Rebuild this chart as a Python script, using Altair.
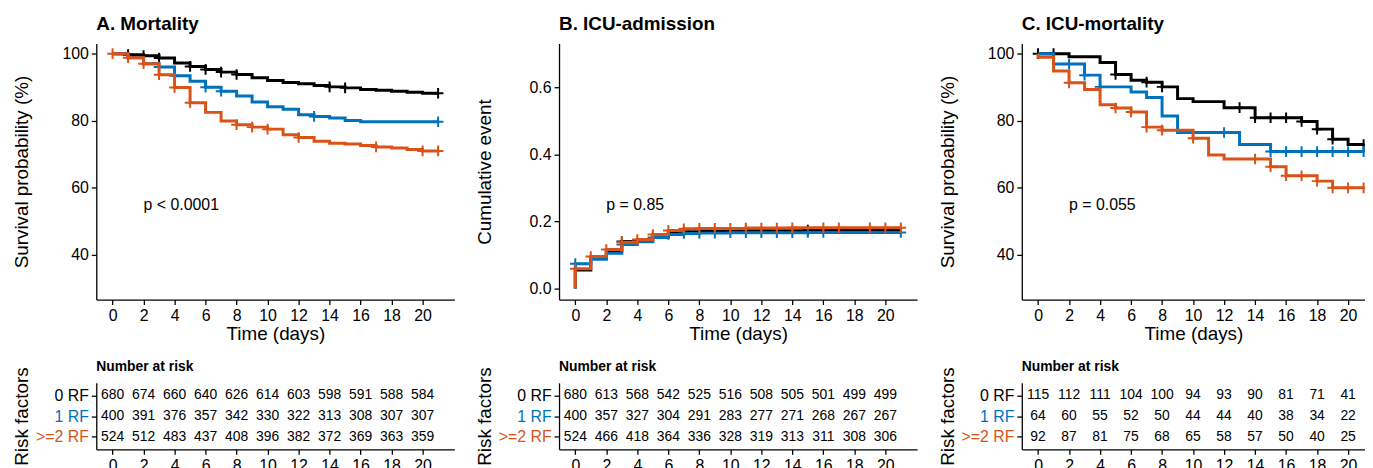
import altair as alt
import pandas as pd

GROUPS = ["0 RF", "1 RF", ">=2 RF"]
COLORS = ["#000000", "#0072BD", "#D95319"]
DAYS = list(range(22))
RISK_DAYS = list(range(0, 21, 2))

# ---- Panel A: Mortality (survival %, value at each day 0..21)
A_RF0 = [100, 99.7, 99.4, 98.7, 97.2, 96.2, 95.3, 94.5, 93.8, 92.8, 92.0, 91.4,
         91.0, 90.5, 90.1, 89.8, 89.3, 89.1, 88.8, 88.5, 88.2, 88.2]
A_RF1 = [100, 98.8, 97.0, 96.0, 93.4, 91.8, 90.0, 88.8, 87.4, 85.6, 84.2, 83.4,
         81.8, 81.3, 80.8, 80.1, 79.7, 79.7, 79.7, 79.7, 79.7, 79.7]
A_RF2 = [100, 98.8, 97.0, 93.7, 89.9, 85.4, 82.5, 79.9, 78.8, 78.1, 77.5, 75.8,
         75.0, 73.9, 73.3, 73.1, 72.6, 72.2, 71.9, 71.4, 71.0, 71.0]
A_CENS0 = [1, 2, 3, 5, 6, 7, 8, 14, 15, 21]
A_CENS1 = [3, 4, 6, 7, 13, 21]
A_CENS2 = [0, 1, 2, 3, 4, 5, 8, 9, 10, 12, 17, 20, 21]

# ---- Panel B: ICU-admission (cumulative event)
B_RF0 = [0.055, 0.090, 0.112, 0.140, 0.146, 0.156, 0.165, 0.169, 0.170, 0.171, 0.172,
         0.172, 0.172, 0.172, 0.172, 0.174, 0.174, 0.174, 0.174, 0.174, 0.174, 0.174]
B_RF1 = [0.074, 0.087, 0.105, 0.131, 0.139, 0.152, 0.161, 0.164, 0.165, 0.165, 0.166,
         0.166, 0.166, 0.166, 0.166, 0.167, 0.167, 0.167, 0.167, 0.167, 0.167, 0.167]
B_RF2 = [0.059, 0.095, 0.116, 0.138, 0.146, 0.161, 0.173, 0.178, 0.179, 0.179, 0.179,
         0.180, 0.180, 0.180, 0.181, 0.181, 0.181, 0.181, 0.181, 0.181, 0.181, 0.181]
B_CENS0 = [3, 15]
B_CENS1 = [0, 3, 5, 6, 7, 8, 9, 10, 11, 12, 13, 14, 15, 16, 21]
B_CENS2 = [0, 1, 2, 3, 4, 5, 6, 7, 8, 9, 10, 11, 12, 13, 14, 16, 17, 19, 20, 21]

# ---- Panel C: ICU-mortality (survival %)
C_RF0 = [100, 100, 99.1, 99.1, 97.4, 93.8, 92.1, 91.5, 90.1, 86.6, 85.7, 85.7,
         83.9, 83.9, 80.9, 80.9, 80.9, 79.8, 77.5, 74.5, 72.9, 72.9]
C_RF1 = [100, 96.9, 96.9, 93.6, 90.1, 90.1, 88.6, 86.9, 81.4, 76.5, 76.5, 76.5,
         76.5, 72.9, 72.9, 70.8, 70.8, 70.8, 70.8, 70.8, 70.8, 70.8]
C_RF2 = [98.9, 94.8, 91.3, 89.3, 84.8, 83.8, 82.6, 78.1, 77.2, 77.2, 74.8, 69.8,
         68.6, 68.6, 68.6, 66.3, 63.6, 63.6, 62.0, 60.0, 60.0, 60.0]
C_CENS0 = [0, 1, 5, 7, 8, 13, 14, 15, 16, 17, 18, 19, 21]
C_CENS1 = [2, 3, 4, 12, 15, 16, 17, 18, 19, 20, 21]
C_CENS2 = [2, 5, 6, 7, 8, 10, 14, 15, 16, 17, 18, 19, 20, 21]

# ---- Numbers at risk (days 0,2,...,20)
A_RISK0 = [680, 674, 660, 640, 626, 614, 603, 598, 591, 588, 584]
A_RISK1 = [400, 391, 376, 357, 342, 330, 322, 313, 308, 307, 307]
A_RISK2 = [524, 512, 483, 437, 408, 396, 382, 372, 369, 363, 359]
B_RISK0 = [680, 613, 568, 542, 525, 516, 508, 505, 501, 499, 499]
B_RISK1 = [400, 357, 327, 304, 291, 283, 277, 271, 268, 267, 267]
B_RISK2 = [524, 466, 418, 364, 336, 328, 319, 313, 311, 308, 306]
C_RISK0 = [115, 112, 111, 104, 100, 94, 93, 90, 81, 71, 41]
C_RISK1 = [64, 60, 55, 52, 50, 44, 44, 40, 38, 34, 22]
C_RISK2 = [92, 87, 81, 75, 68, 65, 58, 57, 50, 40, 25]

TITLES = ["A. Mortality", "B. ICU-admission", "C. ICU-mortality"]
PVALS = ["p < 0.0001", "p = 0.85", "p = 0.055"]

CROSS = "M-1,0L1,0M0,-1L0,1"
XMIN = -1.05
XMAX = 22.05
W = 361
W_LAST = 346
XMAX_LAST = XMIN + (XMAX - XMIN) * W_LAST / W
H = 258
H_TAB = 67


def km_chart(title, series, cens, start, ylab, ydom, yticks, yfmt, ptext, py,
             width, xmax):
    xenc = alt.X("t:Q", scale=alt.Scale(domain=[XMIN, xmax], nice=False, zero=False),
                 axis=alt.Axis(values=RISK_DAYS, title="Time (days)", titlePadding=1,
                               labelOverlap=False))
    yenc = alt.Y("v:Q", scale=alt.Scale(domain=ydom, nice=False, zero=False),
                 axis=alt.Axis(values=yticks, format=yfmt, title=ylab, minExtent=60,
                               maxExtent=60, titlePadding=5, labelOverlap=False))
    layers = []
    for col, vals, ct in zip(COLORS, series, cens):
        df = pd.DataFrame({"t": [0] + DAYS, "v": [start] + vals,
                           "o": list(range(len(vals) + 1))})
        line = alt.Chart(df).mark_line(
            interpolate="step-after", color=col, strokeWidth=3, clip=True
        ).encode(x=xenc, y=yenc, order="o:Q")
        cdf = pd.DataFrame({"t": ct, "v": [vals[d] for d in ct]})
        pts = alt.Chart(cdf).mark_point(
            shape=CROSS, filled=False, size=115, strokeWidth=2, color=col,
            opacity=1, clip=True
        ).encode(x=xenc, y=yenc)
        layers += [line, pts]
    ptxt = alt.Chart(pd.DataFrame({"t": [2], "v": [py], "s": [ptext]})).mark_text(
        align="left", baseline="middle", fontSize=16, color="black"
    ).encode(x=xenc, y=yenc, text="s:N")
    layers.append(ptxt)
    return alt.layer(*layers).properties(
        width=width, height=H,
        title=alt.TitleParams(title, anchor="start", frame="group", fontSize=19,
                              fontWeight="bold", offset=10, color="black"),
    )


def risk_chart(risks, width, xmax):
    rows = []
    for g, r in zip(GROUPS, risks):
        for d, n in zip(RISK_DAYS, r):
            rows.append({"t": d, "g": g, "n": str(n)})
    df = pd.DataFrame(rows)
    label_color = {
        "condition": [
            {"test": "datum.value === '%s'" % GROUPS[1], "value": COLORS[1]},
            {"test": "datum.value === '%s'" % GROUPS[2], "value": COLORS[2]},
        ],
        "value": "black",
    }
    return alt.Chart(df).mark_text(
        fontSize=14, align="center", baseline="middle", color="black"
    ).encode(
        x=alt.X("t:Q", scale=alt.Scale(domain=[XMIN, xmax], nice=False, zero=False),
                axis=alt.Axis(values=RISK_DAYS, title=None, labelOverlap=False)),
        y=alt.Y("g:N", sort=GROUPS,
                scale=alt.Scale(type="point", padding=0.6, domain=GROUPS),
                axis=alt.Axis(title="Risk factors", minExtent=60, maxExtent=60,
                              titlePadding=5, labelColor=label_color)),
        text="n:N",
    ).properties(
        width=width, height=H_TAB,
        title=alt.TitleParams("Number at risk", anchor="start", frame="group",
                              fontSize=14, fontWeight="bold", offset=-7, color="black"),
    )


kA = km_chart(TITLES[0], [A_RF0, A_RF1, A_RF2], [A_CENS0, A_CENS1, A_CENS2], 100,
              "Survival probability (%)", [26.7, 103.0], [40, 60, 80, 100], "d",
              PVALS[0], 55, W, XMAX)
kB = km_chart(TITLES[1], [B_RF0, B_RF1, B_RF2], [B_CENS0, B_CENS1, B_CENS2], 0,
              "Cumulative event", [-0.033, 0.730], [0, 0.2, 0.4, 0.6], ".1f",
              PVALS[1], 0.25, W, XMAX)
kC = km_chart(TITLES[2], [C_RF0, C_RF1, C_RF2], [C_CENS0, C_CENS1, C_CENS2], 100,
              "Survival probability (%)", [26.7, 103.0], [40, 60, 80, 100], "d",
              PVALS[2], 55, W_LAST, XMAX_LAST)
tA = risk_chart([A_RISK0, A_RISK1, A_RISK2], W, XMAX)
tB = risk_chart([B_RISK0, B_RISK1, B_RISK2], W, XMAX)
tC = risk_chart([C_RISK0, C_RISK1, C_RISK2], W_LAST, XMAX_LAST)

chart = alt.concat(kA, kB, kC, tA, tB, tC, columns=3,
                   spacing={"row": 16, "column": 21.5}).properties(
    padding={"left": 5, "top": 5, "right": 0, "bottom": 0}
).configure(
    font="Liberation Sans"
).configure_view(
    stroke=None
).configure_axis(
    grid=False, domainColor="black", domainWidth=1.3, tickColor="black",
    tickWidth=1.3, tickSize=5, labelColor="black", titleColor="black",
    labelFontSize=16, titleFontSize=19, titleFontWeight="normal", labelPadding=3,
    labelFont="Liberation Sans", titleFont="Liberation Sans",
)

chart.save("out.html", embed_options={"renderer": "svg", "actions": False})
